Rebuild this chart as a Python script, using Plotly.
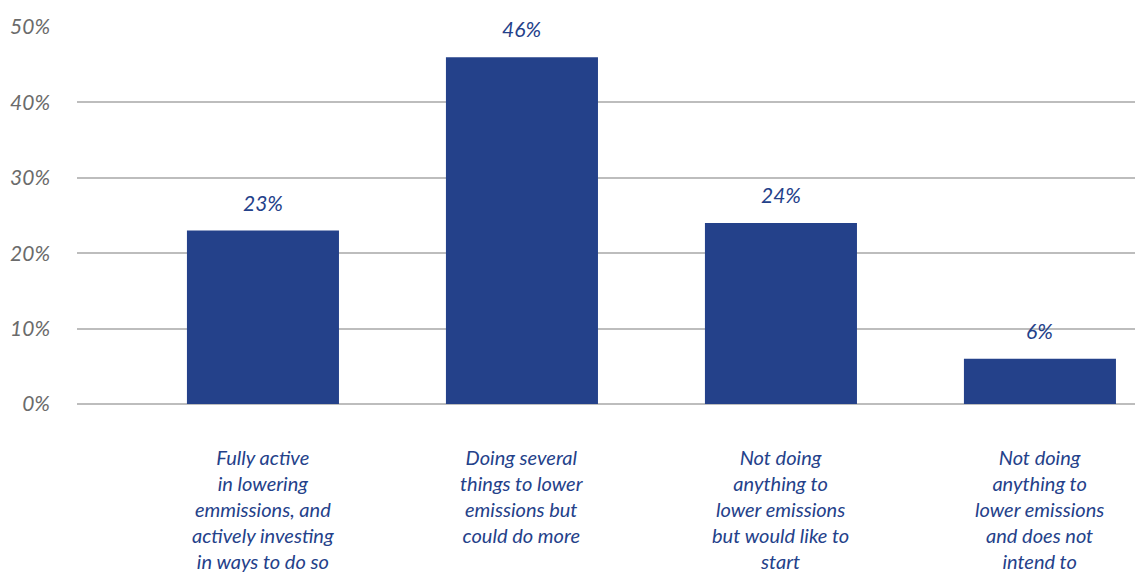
import plotly.graph_objects as go

categories = [
    "Fully active<br>in lowering<br>emmissions, and<br>actively investing<br>in ways to do so",
    "Doing several<br>things to lower<br>emissions but<br>could do more",
    "Not doing<br>anything to<br>lower emissions<br>but would like to<br>start",
    "Not doing<br>anything to<br>lower emissions<br>and does not<br>intend to",
]
values = [23, 46, 24, 6]
y_ticks = [0, 10, 20, 30, 40, 50]
y_tick_labels = ["0%", "10%", "20%", "30%", "40%", "50%"]

BLUE = "#24418a"
GRID = "#bdbdbd"
FONT = "Lato, 'Open Sans', sans-serif"

x_pos = list(range(len(categories)))

fig = go.Figure()
fig.add_trace(go.Bar(
    x=x_pos,
    y=values,
    marker=dict(color=BLUE, line=dict(width=0)),
    width=0.587,
    hoverinfo="skip",
))

for xi, v in zip(x_pos, values):
    fig.add_annotation(
        x=xi, y=v, text=f"{v}%", showarrow=False,
        yanchor="bottom", yshift=14,
        font=dict(family=FONT, size=21, color=BLUE, style="italic"),
    )

for xi, c in zip(x_pos, categories):
    fig.add_annotation(
        x=xi, y=0, text=c, showarrow=False,
        yanchor="top", yshift=-39, align="center",
        font=dict(family=FONT, size=20, color=BLUE, style="italic"),
    )

fig.update_layout(
    width=1135, height=576,
    margin=dict(l=77, r=0, t=27, b=172),
    paper_bgcolor="white", plot_bgcolor="white",
    showlegend=False,
    xaxis=dict(
        range=[-0.718, 3.367], showgrid=False, zeroline=False,
        showticklabels=False, showline=False, fixedrange=True,
    ),
    yaxis=dict(
        range=[0, 50], tickmode="array", tickvals=y_ticks, ticktext=y_tick_labels,
        showgrid=True, gridcolor=GRID, gridwidth=2,
        zeroline=True, zerolinecolor=GRID, zerolinewidth=2,
        showline=False, ticklabelstandoff=26,
        tickfont=dict(family=FONT, size=21, color="#6b6b6b", style="italic"),
        fixedrange=True,
    ),
)

fig.write_html("out.html")
